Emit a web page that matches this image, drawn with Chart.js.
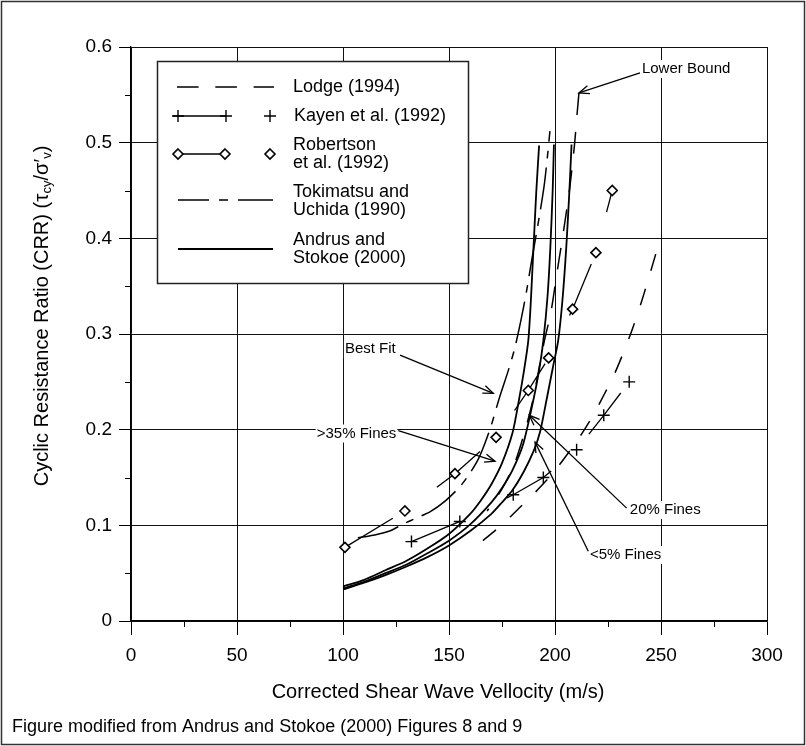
<!DOCTYPE html>
<html>
<head>
<meta charset="utf-8">
<script src="https://cdn.jsdelivr.net/npm/chart.js@4/dist/chart.umd.min.js"></script>
<style>
  html, body { margin: 0; padding: 0; background: #fff; }
  canvas { display: block; }
</style>
</head>
<body>
<canvas id="crr" width="806" height="746"></canvas>
<script>
// Corrected shear wave velocity (m/s) against cyclic resistance ratio

// Andrus and Stokoe (2000): three fines contents
const andrusFines5Vs   = [100, 110, 120, 130, 140, 150, 160, 170, 175, 180, 185, 190, 193, 196, 199, 201.5, 203.5, 205.3, 206.8, 207.8];
const andrusFines5Crr  = [0.033, 0.040, 0.048, 0.057, 0.067, 0.079, 0.094, 0.112, 0.124, 0.137, 0.155, 0.178, 0.198, 0.231, 0.265, 0.293, 0.335, 0.39, 0.45, 0.498];
const andrusFines20Vs  = [100, 110, 120, 130, 140, 150, 160, 170, 175, 180, 185, 189.8, 192.5, 194.5, 196.5, 197.8, 198.9, 199.5];
const andrusFines20Crr = [0.034, 0.041, 0.050, 0.059, 0.071, 0.084, 0.101, 0.124, 0.139, 0.158, 0.185, 0.231, 0.262, 0.293, 0.34, 0.39, 0.45, 0.498];
const andrusFines35Vs  = [100, 110, 120, 130, 140, 150, 160, 165, 170, 175, 180, 183, 185.4, 187.4, 188.5, 189.4, 190.3, 191.2, 192.5];
const andrusFines35Crr = [0.036, 0.043, 0.053, 0.063, 0.076, 0.091, 0.112, 0.126, 0.143, 0.165, 0.197, 0.231, 0.262, 0.293, 0.33, 0.37, 0.41, 0.45, 0.497];

// Lodge (1994)
const lodgeVs  = [166, 172, 178, 184, 190, 196, 202, 208, 213, 218, 223, 228, 232, 236, 240, 244, 248, 249.8];
const lodgeCrr = [0.084, 0.095, 0.107, 0.120, 0.133, 0.147, 0.163, 0.181, 0.197, 0.215, 0.236, 0.258, 0.279, 0.302, 0.328, 0.357, 0.387, 0.398];
const lowerBoundVs  = [211.3, 210.3, 209.3, 208.1, 206.8, 205.2, 203.5, 201.7, 200, 198, 195, 192.3, 189.6, 186, 181, 175, 168];
const lowerBoundCrr = [0.552, 0.527, 0.50, 0.475, 0.45, 0.425, 0.40, 0.375, 0.35, 0.322, 0.293, 0.262, 0.231, 0.20, 0.165, 0.138, 0.115];

// Tokimatsu and Uchida (1990)
const tokimatsuVs  = [107, 115, 122, 128, 135, 141, 148, 155, 160, 164, 167, 170, 174, 178, 181, 184, 186.6, 189, 191, 193, 195, 196.5, 197.6];
const tokimatsuCrr = [0.087, 0.090, 0.094, 0.101, 0.108, 0.114, 0.125, 0.140, 0.155, 0.170, 0.186, 0.205, 0.235, 0.262, 0.285, 0.315, 0.345, 0.377, 0.402, 0.428, 0.457, 0.487, 0.512];

// Kayen et al. (1992)
const kayenVs  = [132.3, 155.1, 180.3, 194.5, 210.2, 223, 235];
const kayenCrr = [0.083, 0.104, 0.132, 0.150, 0.179, 0.215, 0.25];

// Robertson et al. (1992)
const robertsonVs  = [100.9, 129.2, 152.8, 172.2, 187.4, 197, 208.3, 219.3, 227];
const robertsonCrr = [0.077, 0.115, 0.154, 0.192, 0.241, 0.275, 0.326, 0.385, 0.45];

// Axis ticks
const xTickLabels = ['0', '50', '100', '150', '200', '250', '300'];
const yTickLabels = ['0', '0.1', '0.2', '0.3', '0.4', '0.5', '0.6'];
const xMinorTicks = [25, 75, 125, 175, 225, 275];
const yMinorTicks = [0.05, 0.15, 0.25, 0.35, 0.45, 0.55];

// Callout labels: text, text anchor and arrow tip in data units
const callouts = [
  { text: 'Lower Bound', at: [241.0, 0.577], from: [240.1, 0.573], tip: [211.3, 0.552] },
  { text: 'Best Fit',    at: [100.9, 0.284], from: [126.9, 0.278], tip: [170.9, 0.238] },
  { text: '>35% Fines',  at: [87.6, 0.196],  from: [126.1, 0.199], tip: [171.7, 0.167] },
  { text: '20% Fines',   at: [235.3, 0.116], from: [233.8, 0.118], tip: [187.9, 0.215] },
  { text: '<5% Fines',   at: [216.5, 0.069], from: [215.7, 0.073], tip: [190.6, 0.187] }
];

const FONT = '"Liberation Sans", Arial, Helvetica, sans-serif';
const pts = (xs, ys) => xs.map((x, i) => ({ x: x, y: ys[i] }));

const lineBase = {
  showLine: true, borderColor: '#000', backgroundColor: '#000',
  pointRadius: 0, tension: 0.25, fill: false
};

const datasets = [
  Object.assign({}, lineBase, {
    label: 'Robertson et al. (1992)', data: pts(robertsonVs, robertsonCrr),
    borderWidth: 1.3, borderDash: [56, 54], tension: 0,
    pointStyle: 'rectRot', pointRadius: 5, pointBorderWidth: 1.6,
    pointBackgroundColor: '#fff', pointBorderColor: '#000'
  }),
  Object.assign({}, lineBase, {
    label: 'Kayen et al. (1992)', data: pts(kayenVs, kayenCrr),
    borderWidth: 1.3, borderDash: [52, 53], tension: 0,
    pointStyle: 'cross', pointRadius: 6, pointBorderWidth: 1.4,
    pointBorderColor: '#000'
  }),
  Object.assign({}, lineBase, {
    label: 'Lodge (1994)', data: pts(lodgeVs, lodgeCrr),
    borderWidth: 1.5, borderDash: [17, 19]
  }),
  Object.assign({}, lineBase, {
    label: 'Lodge (1994) lower bound', data: pts(lowerBoundVs, lowerBoundCrr),
    borderWidth: 1.5, borderDash: [22, 17]
  }),
  Object.assign({}, lineBase, {
    label: 'Tokimatsu and Uchida (1990)', data: pts(tokimatsuVs, tokimatsuCrr),
    borderWidth: 1.5, borderDash: [42, 9, 8, 9]
  }),
  Object.assign({}, lineBase, {
    label: 'Andrus and Stokoe (2000) <5%', data: pts(andrusFines5Vs, andrusFines5Crr),
    borderWidth: 1.8
  }),
  Object.assign({}, lineBase, {
    label: 'Andrus and Stokoe (2000) 20%', data: pts(andrusFines20Vs, andrusFines20Crr),
    borderWidth: 1.8
  }),
  Object.assign({}, lineBase, {
    label: 'Andrus and Stokoe (2000) >35%', data: pts(andrusFines35Vs, andrusFines35Crr),
    borderWidth: 1.8
  })
];

function drawArrow(ctx, x0, y0, x1, y1) {
  const a = Math.atan2(y1 - y0, x1 - x0);
  const len = 11, spread = 0.38;
  ctx.beginPath();
  ctx.moveTo(x0, y0);
  ctx.lineTo(x1, y1);
  ctx.stroke();
  ctx.beginPath();
  ctx.moveTo(x1 - len * Math.cos(a - spread), y1 - len * Math.sin(a - spread));
  ctx.lineTo(x1, y1);
  ctx.lineTo(x1 - len * Math.cos(a + spread), y1 - len * Math.sin(a + spread));
  ctx.stroke();
}

function drawCross(ctx, x, y, r) {
  ctx.beginPath();
  ctx.moveTo(x - r, y); ctx.lineTo(x + r, y);
  ctx.moveTo(x, y - r); ctx.lineTo(x, y + r);
  ctx.stroke();
}

function drawDiamond(ctx, x, y, r) {
  ctx.beginPath();
  ctx.moveTo(x, y - r); ctx.lineTo(x + r, y); ctx.lineTo(x, y + r); ctx.lineTo(x - r, y);
  ctx.closePath();
  ctx.fillStyle = '#fff';
  ctx.fill();
  ctx.stroke();
}

const decor = {
  id: 'decor',
  afterDraw(chart) {
    const ctx = chart.ctx;
    const xs = chart.scales.x, ys = chart.scales.y;
    const area = chart.chartArea;
    ctx.save();

    // minor ticks
    ctx.strokeStyle = '#000';
    ctx.lineWidth = 1;
    ctx.setLineDash([]);
    xMinorTicks.forEach(v => {
      const px = Math.round(xs.getPixelForValue(v)) + 0.5;
      ctx.beginPath(); ctx.moveTo(px, area.bottom); ctx.lineTo(px, area.bottom + 6); ctx.stroke();
    });
    yMinorTicks.forEach(v => {
      const py = Math.round(ys.getPixelForValue(v)) + 0.5;
      ctx.beginPath(); ctx.moveTo(area.left - 6, py); ctx.lineTo(area.left, py); ctx.stroke();
    });

    // axis titles and note
    ctx.fillStyle = '#000';
    ctx.textBaseline = 'middle';
    ctx.textAlign = 'center';
    ctx.font = '20px ' + FONT;
    ctx.fillText('Corrected Shear Wave Vellocity (m/s)', (area.left + area.right) / 2 - 11, 692);
    ctx.textAlign = 'left';
    ctx.font = '18px ' + FONT;
    ctx.fillText('Figure modified from Andrus and Stokoe (2000) Figures 8 and 9', 12, 727);

    // y title with subscripts
    const parts = [
      { t: 'Cyclic Resistance Ratio (CRR) (', s: 20, dy: 0 },
      { t: '\u03C4', s: 21, dy: 0 },
      { t: 'cy', s: 13, dy: 5 },
      { t: '/\u03C3\u2032', s: 20, dy: 0 },
      { t: 'v', s: 13, dy: 5 },
      { t: ')', s: 20, dy: 0 }
    ];
    let total = 0;
    parts.forEach(p => { ctx.font = p.s + 'px ' + FONT; p.w = ctx.measureText(p.t).width; total += p.w; });
    ctx.save();
    ctx.translate(42, 316);
    ctx.rotate(-Math.PI / 2);
    let cx = -total / 2;
    parts.forEach(p => {
      ctx.font = p.s + 'px ' + FONT;
      ctx.fillText(p.t, cx, p.dy);
      cx += p.w;
    });
    ctx.restore();

    // legend
    const bx = 157, by = 61, bw = 311, bh = 222;
    ctx.fillStyle = '#fff';
    ctx.fillRect(bx, by, bw, bh);
    ctx.strokeStyle = '#222';
    ctx.lineWidth = 1.5;
    ctx.strokeRect(bx + 0.5, by + 0.5, bw, bh);

    ctx.strokeStyle = '#000';
    ctx.lineWidth = 1.4;
    // Lodge sample
    ctx.setLineDash([21.6, 16.7]);
    ctx.beginPath(); ctx.moveTo(177, 87); ctx.lineTo(274, 87); ctx.stroke();
    ctx.setLineDash([]);
    // Kayen sample
    ctx.beginPath(); ctx.moveTo(173, 116); ctx.lineTo(226, 116); ctx.stroke();
    [178, 226, 270].forEach(x => drawCross(ctx, x, 116, 6));
    // Robertson sample
    ctx.beginPath(); ctx.moveTo(178, 154); ctx.lineTo(225, 154); ctx.stroke();
    ctx.lineWidth = 1.6;
    [178, 225, 270].forEach(x => drawDiamond(ctx, x, 154, 5));
    ctx.lineWidth = 1.4;
    // Tokimatsu sample
    ctx.beginPath();
    ctx.moveTo(178, 200); ctx.lineTo(209, 200);
    ctx.moveTo(219, 200); ctx.lineTo(228, 200);
    ctx.moveTo(238, 200); ctx.lineTo(273, 200);
    ctx.stroke();
    // Andrus sample
    ctx.lineWidth = 1.8;
    ctx.beginPath(); ctx.moveTo(178, 249); ctx.lineTo(273, 249); ctx.stroke();

    ctx.fillStyle = '#000';
    ctx.font = '18px ' + FONT;
    ctx.textAlign = 'left';
    ctx.textBaseline = 'middle';
    ctx.fillText('Lodge (1994)', 293, 87);
    ctx.fillText('Kayen et al. (1992)', 294, 116);
    ctx.fillText('Robertson', 293, 145);
    ctx.fillText('et al. (1992)', 293, 163);
    ctx.fillText('Tokimatsu and', 293, 192);
    ctx.fillText('Uchida (1990)', 293, 210);
    ctx.fillText('Andrus and', 293, 240);
    ctx.fillText('Stokoe (2000)', 293, 258);

    // callouts
    ctx.font = '15px ' + FONT;
    ctx.lineWidth = 1.3;
    callouts.forEach(c => {
      const tx = xs.getPixelForValue(c.at[0]), ty = ys.getPixelForValue(c.at[1]);
      const w = ctx.measureText(c.text).width;
      ctx.fillStyle = '#fff';
      ctx.fillRect(tx - 1, ty - 9, w + 2, 18);
      ctx.fillStyle = '#000';
      ctx.fillText(c.text, tx, ty);
      drawArrow(ctx,
        xs.getPixelForValue(c.from[0]), ys.getPixelForValue(c.from[1]),
        xs.getPixelForValue(c.tip[0]), ys.getPixelForValue(c.tip[1]));
    });

    // figure frame
    ctx.strokeStyle = '#333';
    ctx.lineWidth = 1.5;
    ctx.strokeRect(1.5, 1.5, chart.width - 3, chart.height - 3);
    ctx.restore();
  }
};

new Chart(document.getElementById('crr'), {
  type: 'scatter',
  data: { datasets: datasets },
  options: {
    responsive: false,
    animation: false,
    events: [],
    layout: { padding: { left: 0, top: 47, right: 39, bottom: 0 } },
    plugins: { legend: { display: false }, tooltip: { enabled: false } },
    scales: {
      x: {
        type: 'linear', min: 0, max: 300,
        afterFit: s => { s.height = 125; },
        ticks: {
          stepSize: 50, color: '#000', padding: 9, maxRotation: 0,
          font: { family: FONT, size: 19 },
          callback: (v, i) => xTickLabels[i]
        },
        grid: { color: '#111', lineWidth: 1, tickLength: 14, tickColor: '#000' },
        border: { color: '#000', width: 1.3 }
      },
      y: {
        type: 'linear', min: 0, max: 0.6,
        afterFit: s => { s.width = 131; },
        ticks: {
          stepSize: 0.1, color: '#000', padding: 7,
          font: { family: FONT, size: 19 },
          callback: (v, i) => yTickLabels[i]
        },
        grid: { color: '#111', lineWidth: 1, tickLength: 12, tickColor: '#000' },
        border: { color: '#000', width: 1.3 }
      }
    }
  },
  plugins: [decor]
});
</script>
</body>
</html>
